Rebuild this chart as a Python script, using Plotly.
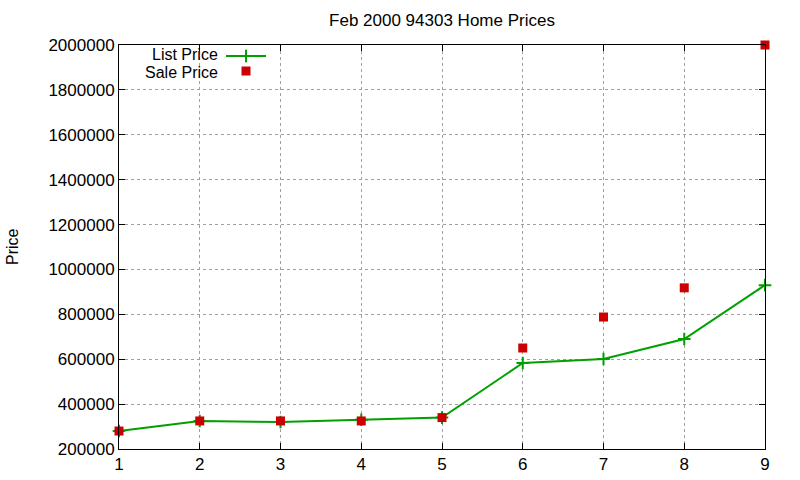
import plotly.graph_objects as go

houses = [1, 2, 3, 4, 5, 6, 7, 8, 9]
list_price = [280000, 325000, 320000, 330000, 340000, 583000, 601000, 690000, 930000]
sale_price = [280000, 325000, 325000, 325000, 340000, 650000, 788000, 918000, 2000000]
y_ticks = list(range(200000, 2000001, 200000))
x_ticks = houses

FONT = "Liberation Sans, Arial, sans-serif"
GREEN = "#00a000"
RED = "#cc0000"

fig = go.Figure()
fig.add_trace(go.Scatter(
    x=houses, y=list_price, mode="lines+markers", name="List Price",
    line=dict(color=GREEN, width=2),
    marker=dict(symbol="cross-thin", size=9, line=dict(color=GREEN, width=2)),
    cliponaxis=False, showlegend=False))
fig.add_trace(go.Scatter(
    x=houses, y=sale_price, mode="markers", name="Sale Price",
    marker=dict(symbol="square", size=9, color=RED),
    cliponaxis=False, showlegend=False))

# manual gnuplot-style legend (text left of the sample)
fig.add_trace(go.Scatter(
    x=[0.1656, 0.1966, 0.2276], y=[0.9728, 0.9728, 0.9728], xaxis="x2", yaxis="y2",
    mode="lines", line=dict(color=GREEN, width=2), showlegend=False, hoverinfo="skip"))
fig.add_trace(go.Scatter(
    x=[0.1966], y=[0.9728], xaxis="x2", yaxis="y2", mode="markers",
    marker=dict(symbol="cross-thin", size=9, line=dict(color=GREEN, width=2)),
    showlegend=False, hoverinfo="skip"))
fig.add_trace(go.Scatter(
    x=[0.1966], y=[0.9356], xaxis="x2", yaxis="y2", mode="markers",
    marker=dict(symbol="square", size=9, color=RED),
    showlegend=False, hoverinfo="skip"))

axis_common = dict(
    showline=True, linecolor="black", linewidth=1, mirror="ticks",
    ticks="inside", ticklen=6, tickcolor="black",
    showgrid=True, gridcolor="#a0a0a0", griddash="dot", gridwidth=1,
    zeroline=False, automargin=False,
    tickfont=dict(family=FONT, size=17, color="black"),
)

fig.update_layout(
    width=800, height=480,
    margin=dict(l=119, r=35, t=45, b=31),
    paper_bgcolor="white", plot_bgcolor="white",
    font=dict(family=FONT, size=16, color="black"),
    title=dict(text="Feb 2000 94303 Home Prices", x=0.5, xref="paper",
               y=1 - 20 / 480, yref="container", yanchor="middle",
               font=dict(family=FONT, size=17, color="black")),
    xaxis=dict(range=[1, 9], tickvals=x_ticks, **axis_common),
    yaxis=dict(range=[200000, 2000000], tickvals=y_ticks, tickformat="d", **axis_common),
    xaxis2=dict(range=[0, 1], overlaying="x", visible=False, fixedrange=True),
    yaxis2=dict(range=[0, 1], overlaying="y", visible=False, fixedrange=True),
    showlegend=False,
    annotations=[
        dict(text="Price", textangle=-90, x=(12 - 119) / 646, y=0.5,
             xref="paper", yref="paper", showarrow=False, xanchor="center",
             yanchor="middle", font=dict(family=FONT, size=16)),
        dict(text="List Price", x=0.1563, y=0.9753, xref="paper", yref="paper",
             showarrow=False, xanchor="right", yanchor="middle", font=dict(family=FONT, size=16)),
        dict(text="Sale Price", x=0.1563, y=0.9331, xref="paper", yref="paper",
             showarrow=False, xanchor="right", yanchor="middle", font=dict(family=FONT, size=16)),
    ],
)

fig.write_html("out.html")
